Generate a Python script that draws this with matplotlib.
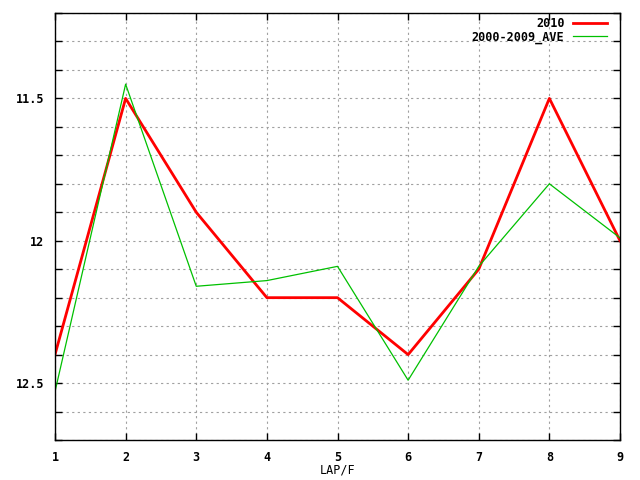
import matplotlib
matplotlib.use("Agg")
import matplotlib.pyplot as plt
from matplotlib.ticker import MultipleLocator, FixedLocator

# data
laps = [1, 2, 3, 4, 5, 6, 7, 8, 9]
y2010 = [12.4, 11.5, 11.9, 12.2, 12.2, 12.4, 12.1, 11.5, 12.0]
ave = [12.53, 11.45, 12.16, 12.14, 12.09, 12.49, 12.09, 11.8, 11.99]
ytick_vals = [11.5, 12.0, 12.5]
ytick_labels = ["11.5", "12", "12.5"]

plt.rcParams['font.family'] = ['DejaVu Sans Mono']
plt.rcParams['font.weight'] = 'bold'
plt.rcParams['font.size'] = 8.5

fig = plt.figure(figsize=(6.4, 4.8), dpi=100)
ax = fig.add_axes([55 / 640, 40 / 480, 565 / 640, 427 / 480])

ax.plot(laps, y2010, color="#ff0000", linewidth=2, label="2010")
ax.plot(laps, ave, color="#00c000", linewidth=0.9, label="2000-2009_AVE")

ax.set_xlim(1, 9)
ax.set_ylim(12.7, 11.2)
ax.xaxis.set_major_locator(FixedLocator(laps))
ax.yaxis.set_major_locator(FixedLocator(ytick_vals))
ax.set_yticklabels(ytick_labels)
ax.yaxis.set_minor_locator(MultipleLocator(0.1))

ax.grid(True, which="both", axis="y", color="#a0a0a0", linestyle=(0, (2, 3)), linewidth=0.8)
ax.grid(True, which="major", axis="x", color="#a0a0a0", linestyle=(0, (2, 3)), linewidth=0.8)
ax.tick_params(which="both", direction="in", top=True, right=True, length=5, width=1)
ax.tick_params(which="major", pad=8)
for s in ax.spines.values():
    s.set_linewidth(1)

xl = ax.set_xlabel("LAP/F")
ax.xaxis.set_label_coords(0.5, -30 / 427)
xl.set_verticalalignment("center")

ax.legend(loc="upper right", frameon=False, markerfirst=False, handlelength=2.9,
          borderaxespad=0, borderpad=0, labelspacing=0.05, handletextpad=0.7,
          bbox_to_anchor=(607 / 640, (480 - 17) / 480), bbox_transform=fig.transFigure)

fig.savefig("out.png", dpi=100)
